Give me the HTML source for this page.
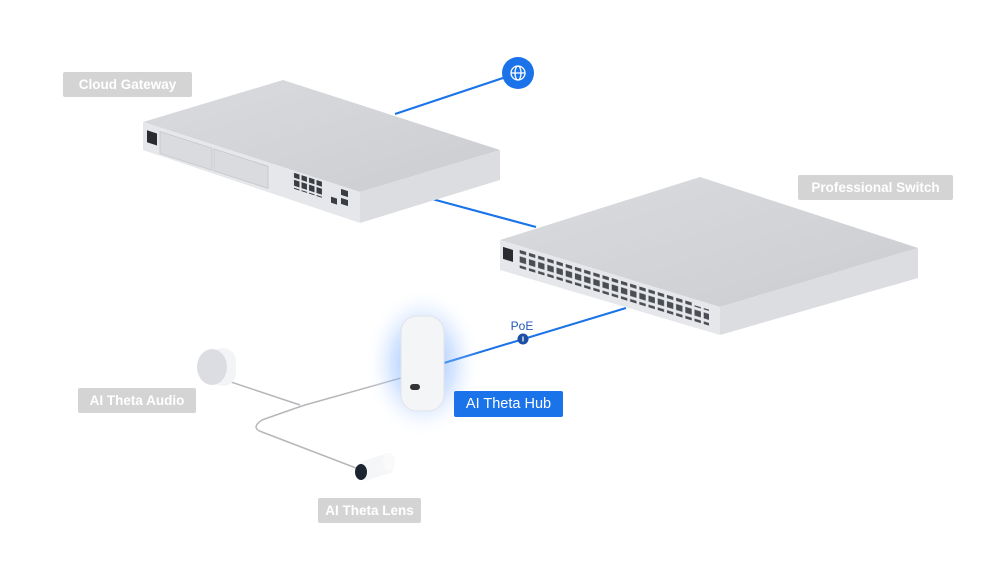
<!DOCTYPE html>
<html><head><meta charset="utf-8"><style>
html,body{margin:0;padding:0;background:#fff;}
body{width:1000px;height:573px;overflow:hidden;position:relative;font-family:"Liberation Sans",sans-serif;}
.lbl{position:absolute;height:25px;line-height:25px;background:#d4d4d4;color:#fff;font-size:13.5px;font-weight:bold;text-align:center;border-radius:2px;}
</style></head><body>
<svg width="1000" height="573" style="position:absolute;left:0;top:0">
<defs>
<radialGradient id="glow" cx="50%" cy="50%" r="50%">
<stop offset="0" stop-color="#5d9dff" stop-opacity="0.75"/>
<stop offset="0.55" stop-color="#8fbaff" stop-opacity="0.35"/>
<stop offset="1" stop-color="#fff" stop-opacity="0"/>
</radialGradient>
<linearGradient id="gtop" x1="0" y1="0" x2="1" y2="1">
<stop offset="0" stop-color="#d9dbde"/><stop offset="1" stop-color="#cbcdd1"/>
</linearGradient>
<pattern id="ports" x="0" y="0" width="9.2" height="9" patternUnits="userSpaceOnUse">
<rect x="1.3" y="1.3" width="6.4" height="6" fill="#4a4d54"/>
</pattern>
<pattern id="gports" x="0" y="0" width="7.5" height="8" patternUnits="userSpaceOnUse">
<rect x="1" y="1" width="5.5" height="6" fill="#3a3d44"/>
</pattern>
</defs>
<!-- connectors -->
<line x1="518" y1="73" x2="395" y2="114" stroke="#1a73e8" stroke-width="2.2"/>
<line x1="432" y1="199" x2="536" y2="227" stroke="#1a73e8" stroke-width="2.2"/>
<line x1="444" y1="363" x2="626" y2="308" stroke="#1a73e8" stroke-width="2"/>
<!-- gateway -->
<polygon points="143,122 283,80 500,150 360,192" fill="url(#gtop)"/>
<polygon points="143,122 360,192 360,223 143,150" fill="#e6e7ea"/>
<polygon points="360,192 500,150 500,180 360,223" fill="#dcdde0"/>
<g transform="matrix(1,0.3226,0,1,143,122)">
<rect x="4" y="7" width="10" height="12" fill="#2a2c31"/>
<rect x="17" y="4" width="52" height="22" fill="#dadbde" stroke="#c3c5c9" stroke-width="0.8"/>
<rect x="71" y="4" width="54" height="22" fill="#dadbde" stroke="#c3c5c9" stroke-width="0.8"/>
<rect x="149" y="2" width="30" height="16" fill="url(#gports)"/>
<rect x="188" y="14" width="6" height="6" fill="#3a3d44"/>
<rect x="198" y="3" width="7" height="6" fill="#3a3d44"/>
<rect x="198" y="12" width="7" height="6" fill="#3a3d44"/>
</g>
<!-- switch -->
<polygon points="500,240 700,177 918,248 720,307" fill="url(#gtop)"/>
<polygon points="500,240 720,307 720,335 500,270" fill="#e6e7ea"/>
<polygon points="720,307 918,248 918,278 720,335" fill="#dcdde0"/>
<g transform="matrix(1,0.3045,0,1,500,240)">
<rect x="3" y="6" width="10" height="12" fill="#2a2c31"/>
<rect x="17" y="4" width="175" height="18" fill="url(#ports)"/>
<rect x="193" y="6" width="16" height="16" fill="url(#ports)"/>
</g>
<!-- cables -->
<path d="M401,378 L305,405 Q290,410 262,420 Q250,428 262,432 L356,468" fill="none" stroke="#b5b7bb" stroke-width="1.5"/>
<path d="M225,380 L300,405" fill="none" stroke="#b5b7bb" stroke-width="1.5"/>
<!-- globe -->
<circle cx="518" cy="73" r="16" fill="#1a73e8"/>
<g stroke="#fff" stroke-width="1.3" fill="none">
<circle cx="518" cy="73" r="7"/><ellipse cx="518" cy="73" rx="3" ry="7"/>
<line x1="511" y1="73" x2="525" y2="73"/>
</g>
<!-- hub -->
<ellipse cx="423" cy="363" rx="58" ry="76" fill="url(#glow)"/>
<rect x="401" y="316" width="43" height="95" rx="16" fill="#f4f5f7" stroke="#e1e3e8" stroke-width="1"/>
<rect x="410" y="384" width="10" height="6" rx="3" fill="#333"/>
<!-- PoE -->
<text x="522" y="330" font-size="12" fill="#2457b8" text-anchor="middle" font-family="Liberation Sans,sans-serif">PoE</text>
<circle cx="523" cy="339" r="5.5" fill="#1d4fa6"/>
<line x1="523" y1="336.5" x2="523" y2="341.5" stroke="#fff" stroke-width="1.2"/>
<!-- audio -->
<rect x="210" y="348" width="26" height="38" rx="13" fill="#f3f4f6"/>
<ellipse cx="212" cy="367" rx="15" ry="18" fill="#dcdde3"/>
<!-- lens -->
<polygon points="360,462 388,453 393,472 365,481" fill="#f5f6f8"/>
<ellipse cx="389" cy="462" rx="6" ry="9" fill="#fafafa"/>
<ellipse cx="361" cy="472" rx="6" ry="8" fill="#1c2430"/>
</svg>
<div class="lbl" style="left:63px;top:72px;width:129px">Cloud Gateway</div>
<div class="lbl" style="left:798px;top:175px;width:155px">Professional Switch</div>
<div class="lbl" style="left:78px;top:388px;width:118px">AI Theta Audio</div>
<div class="lbl" style="left:318px;top:498px;width:103px">AI Theta Lens</div>
<div class="lbl" style="left:454px;top:391px;width:109px;height:26px;line-height:26px;background:#1a73e8;font-weight:normal;font-size:14.5px">AI Theta Hub</div>
</body></html>
